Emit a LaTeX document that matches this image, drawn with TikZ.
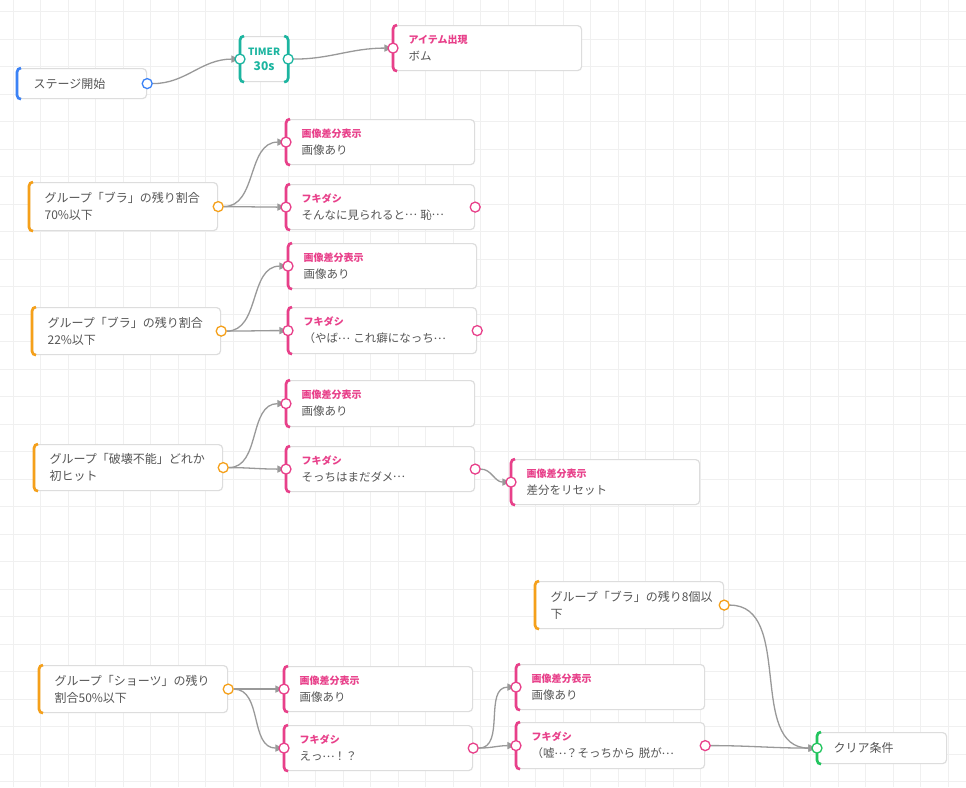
\documentclass[tikz,border=0pt]{standalone}
\usepackage{fontspec}
\setmainfont{Noto Sans CJK JP}
\usetikzlibrary{arrows.meta}

\definecolor{boxline}{HTML}{DDDDDD}
\definecolor{txt}{HTML}{555555}
\definecolor{pk}{HTML}{E8408A}
\definecolor{org}{HTML}{F5A01A}
\definecolor{blu}{HTML}{3B82F6}
\definecolor{tl}{HTML}{1CB5A0}
\definecolor{grn}{HTML}{22C55E}
\definecolor{edgec}{HTML}{999999}
\definecolor{gridc}{HTML}{F0F0F0}

\pgfdeclarelayer{background}
\pgfdeclarelayer{edges}
\pgfsetlayers{background,edges,main}

\tikzset{
  box/.style={draw=boxline, line width=1.2pt, fill=white, rounded corners=4pt,
    anchor=north west, align=left, text width=158pt, inner xsep=15pt,
    minimum height=46pt, text=txt, font=\fontsize{11.5pt}{17pt}\selectfont},
  srcbox/.style={box, font=\fontsize{12pt}{17pt}\selectfont},
  smallbox/.style={box, text width=97pt, inner xsep=16pt, minimum height=30pt},
  port/.style={circle, draw=#1, fill=white, line width=1.3pt,
    minimum size=10pt, inner sep=0pt},
  link/.style={draw=edgec, line width=1.3pt, shorten >=-5pt,
    -{Triangle[length=8pt,width=7pt]}},
}

\newcommand{\hd}[1]{{\fontsize{10pt}{12pt}\selectfont\bfseries\color{pk}#1}}
\newcommand{\el}{\makebox[1em]{\raisebox{0.32em}{…}}}
\newcommand{\leftbar}[2]{\draw[#2, line width=2.6pt, rounded corners=4pt]
  ([xshift=4pt]#1.north west) -- (#1.north west) -- (#1.south west) -- ([xshift=4pt]#1.south west);}
\newcommand{\rightbar}[2]{\draw[#2, line width=2.6pt, rounded corners=4pt]
  ([xshift=-4pt]#1.north east) -- (#1.north east) -- (#1.south east) -- ([xshift=-4pt]#1.south east);}

\begin{document}
\begin{tikzpicture}[x=1pt, y=1pt]
  \useasboundingbox (0,0) rectangle (966,-787);
  \begin{pgfonlayer}{background}
    \fill[white] (0,0) rectangle (966,-787);
    \foreach \i in {0,...,34}
      \draw[gridc, line width=0.7pt] ({13.3+27.5*\i},0) -- ++(0,-787);
    \foreach \j in {0,...,28}
      \draw[gridc, line width=0.7pt] (0,{-11.5-27.5*\j}) -- ++(966,0);
  \end{pgfonlayer}

  % top row
  \node[smallbox, font=\fontsize{12pt}{17pt}\selectfont] (start) at (17,-68) {ステージ開始};
  \node[box, text width=47pt, inner xsep=0pt, minimum height=45pt, align=center,
    text=tl, font=\bfseries] (timer) at (240,-36)
    {{\fontsize{10pt}{12pt}\selectfont TIMER}\\[3pt]{\fontsize{12pt}{14pt}\selectfont 30s}};
  \node[box, minimum height=45pt] (item) at (393,-25) {\hd{アイテム出現}\\ボム};

  % bra 70
  \node[srcbox, minimum height=48pt] (bra70) at (29,-182) {グループ「ブラ」の残り割合\\70\%以下};
  \node[box, minimum height=45pt] (img1) at (286,-119) {\hd{画像差分表示}\\画像あり};
  \node[box, minimum height=45pt] (fki1) at (286,-184) {\hd{フキダシ}\\そんなに見られると\el{} 恥\el};

  % bra 22
  \node[srcbox, minimum height=47pt] (bra22) at (32,-307) {グループ「ブラ」の残り割合\\22\%以下};
  \node[box, minimum height=45pt] (img2) at (288,-243) {\hd{画像差分表示}\\画像あり};
  \node[box] (fki2) at (288,-307) {\hd{フキダシ}\\（やば\el{} これ癖になっち\el};

  % hakai
  \node[srcbox] (hakai) at (34,-444) {グループ「破壊不能」どれか\\初ヒット};
  \node[box] (img3) at (286,-380) {\hd{画像差分表示}\\画像あり};
  \node[box, minimum height=45pt] (fki3) at (286,-446) {\hd{フキダシ}\\そっちはまだダメ\el};
  \node[box, minimum height=45pt] (reset) at (511,-459) {\hd{画像差分表示}\\差分をリセット};

  % shorts / clear
  \node[srcbox, minimum height=47pt] (bra8) at (535,-581) {グループ「ブラ」の残り8個以\\下};
  \node[srcbox, minimum height=47pt] (shorts) at (39,-665) {グループ「ショーツ」の残り\\割合50\%以下};
  \node[box, minimum height=45pt] (img4) at (284,-666) {\hd{画像差分表示}\\画像あり};
  \node[box, minimum height=45pt] (fki4) at (284,-725) {\hd{フキダシ}\\えっ\el！？};
  \node[box, minimum height=45pt] (img5) at (516,-664) {\hd{画像差分表示}\\画像あり};
  \node[box] (fki5) at (516,-722) {\hd{フキダシ}\\（嘘\el？そっちから 脱が\el};
  \node[smallbox, minimum height=31pt, font=\fontsize{12pt}{17pt}\selectfont] (clear) at (817,-732) {クリア条件};

  % accent bars
  \leftbar{start}{blu}
  \leftbar{timer}{tl} \rightbar{timer}{tl}
  \foreach \n in {item,img1,fki1,img2,fki2,img3,fki3,reset,img4,fki4,img5,fki5}
    {\leftbar{\n}{pk}}
  \foreach \n in {bra70,bra22,hakai,bra8,shorts}
    {\leftbar{\n}{org}}
  \leftbar{clear}{grn}

  % ports
  \node[port=blu] (start-o) at (start.east) {};
  \node[port=tl] (timer-i) at (timer.west) {};
  \node[port=tl] (timer-o) at (timer.east) {};
  \foreach \n in {item,img1,fki1,img2,fki2,img3,fki3,reset,img4,fki4,img5,fki5}
    {\node[port=pk] (\n-i) at (\n.west) {};}
  \foreach \n in {fki1,fki2,fki3,fki4,fki5}
    {\node[port=pk] (\n-o) at (\n.east) {};}
  \foreach \n in {bra70,bra22,hakai,bra8,shorts}
    {\node[port=org] (\n-o) at (\n.east) {};}
  \node[port=grn] (clear-i) at (clear.west) {};

  % connectors
  \begin{pgfonlayer}{edges}
    \draw[link] (start-o) to[out=0,in=180] (timer-i);
    \draw[link] (timer-o) to[out=0,in=180] (item-i);
    \draw[link] (bra70-o) to[out=0,in=180] (img1-i);
    \draw[link] (bra70-o) to[out=0,in=180] (fki1-i);
    \draw[link] (bra22-o) to[out=0,in=180] (img2-i);
    \draw[link] (bra22-o) to[out=0,in=180] (fki2-i);
    \draw[link] (hakai-o) to[out=0,in=180] (img3-i);
    \draw[link] (hakai-o) to[out=0,in=180] (fki3-i);
    \draw[link] (fki3-o) to[out=0,in=180] (reset-i);
    \draw[link] (shorts-o) to[out=0,in=180] (img4-i);
    \draw[link] (shorts-o) to[out=0,in=180] (fki4-i);
    \draw[link] (fki4-o) to[out=0,in=180] (img5-i);
    \draw[link] (fki4-o) to[out=0,in=180] (fki5-i);
    \draw[link] (bra8-o) to[out=0,in=180] (clear-i);
    \draw[link] (fki5-o) to[out=0,in=180] (clear-i);
  \end{pgfonlayer}
\end{tikzpicture}
\end{document}
